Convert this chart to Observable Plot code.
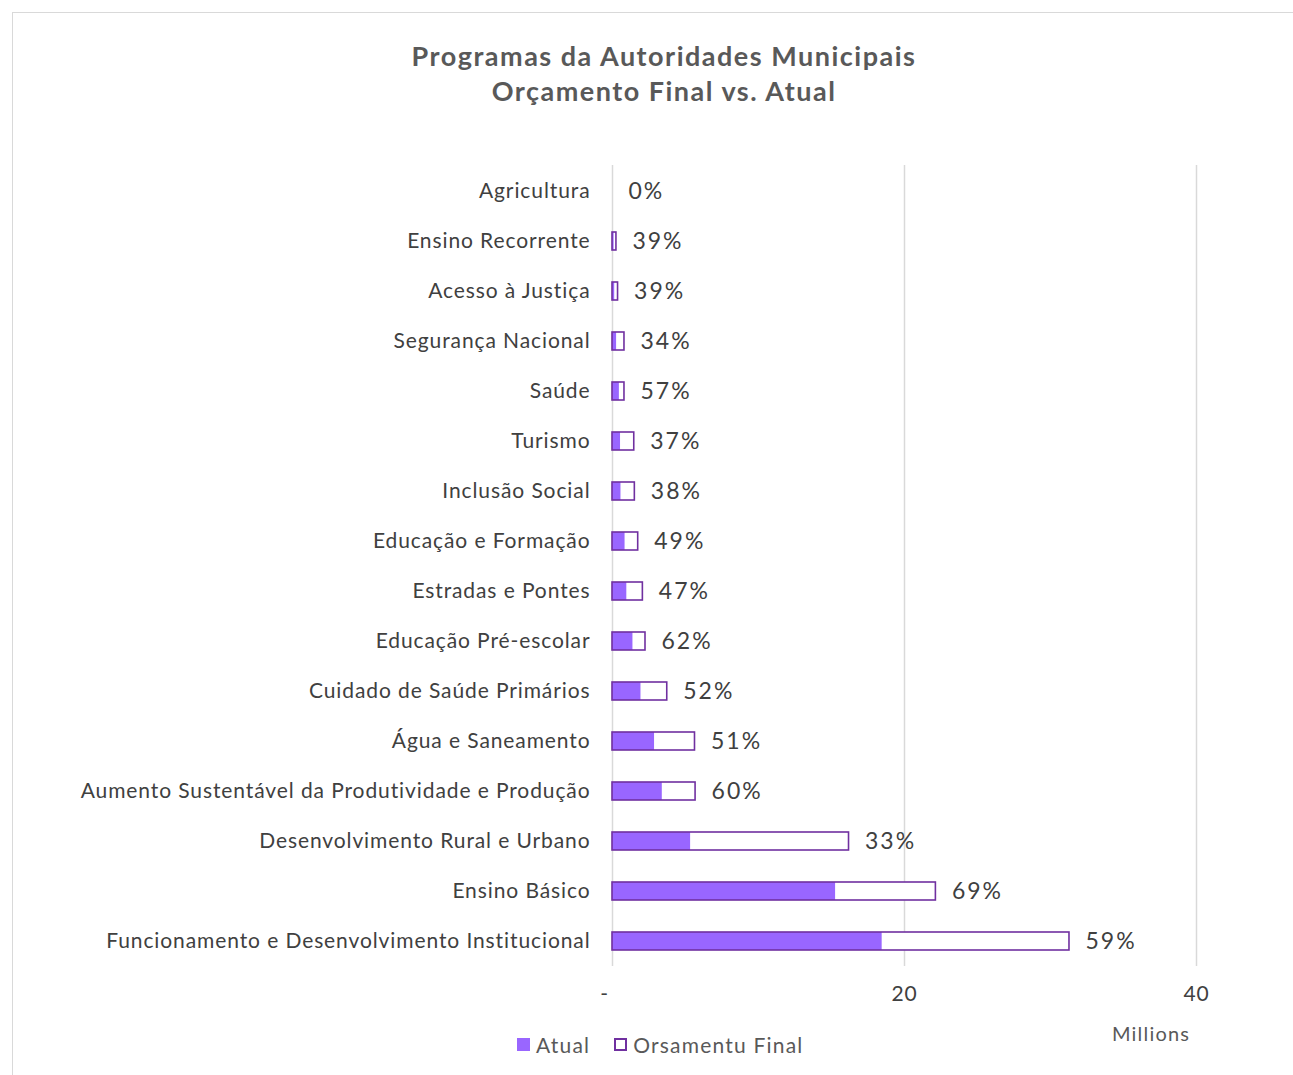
<!DOCTYPE html>
<html>
<head>
<meta charset="utf-8">
<script src="https://cdn.jsdelivr.net/npm/d3@7"></script>
<script src="https://cdn.jsdelivr.net/npm/@observablehq/plot@0.6"></script>
<style>
  html, body { margin: 0; padding: 0; background: #fff; }
  body { width: 1293px; height: 1075px; position: relative; overflow: hidden; font-family: "Lato", "Open Sans", sans-serif; }
  #frame { position: absolute; left: 12px; top: 12px; width: 1300px; height: 1100px; border: 1px solid #d9d9d9; box-sizing: border-box; }
  #title { position: absolute; left: 0; top: 38px; width: 1328px; text-align: center; font-size: 27px; line-height: 35px; font-weight: 700; color: #595959; letter-spacing: 1.5px; }
  #chart { position: absolute; left: 0; top: 140px; }
  #millions { position: absolute; left: 1112px; top: 1021px; font-size: 20px; color: #595959; letter-spacing: 1.2px; }
  #legend { position: absolute; left: 517px; top: 1032px; font-size: 21px; color: #595959; display: flex; align-items: center; letter-spacing: 1.2px; }
  .sw { width: 13px; height: 13px; display: inline-block; margin-right: 6px; box-sizing: border-box; }
  .item { display: flex; align-items: center; margin-right: 24px; }
</style>
</head>
<body>
<div id="frame"></div>
<div id="title">Programas da Autoridades Municipais<br>Orçamento Final vs. Atual</div>
<div id="chart"></div>
<div id="millions">Millions</div>
<div id="legend">
  <span class="item"><span class="sw" style="background:#9966ff"></span>Atual</span>
  <span class="item"><span class="sw" style="background:#fff;border:2px solid #7030a0"></span>Orsamentu Final</span>
</div>
<script>
const categories = [
  "Agricultura",
  "Ensino Recorrente",
  "Acesso à Justiça",
  "Segurança Nacional",
  "Saúde",
  "Turismo",
  "Inclusão Social",
  "Educação e Formação",
  "Estradas e Pontes",
  "Educação Pré-escolar",
  "Cuidado de Saúde Primários",
  "Água e Saneamento",
  "Aumento Sustentável da Produtividade e Produção",
  "Desenvolvimento Rural e Urbano",
  "Ensino Básico",
  "Funcionamento e Desenvolvimento Institucional"
];
// values in millions
const finalBudget = [0, 0.27, 0.38, 0.82, 0.82, 1.49, 1.53, 1.76, 2.08, 2.26, 3.75, 5.65, 5.69, 16.2, 22.15, 31.3];
const actual      = [0, 0.11, 0.15, 0.28, 0.47, 0.55, 0.58, 0.86, 0.98, 1.40, 1.95, 2.88, 3.41, 5.35, 15.28, 18.47];
const pctLabels   = ["0%", "39%", "39%", "34%", "57%", "37%", "38%", "49%", "47%", "62%", "52%", "51%", "60%", "33%", "69%", "59%"];
const xTicks = [0, 20, 40];

const data = categories.map((c, i) => ({cat: c, final: finalBudget[i], actual: actual[i], pct: pctLabels[i]}));

const chart = Plot.plot({
  width: 1293,
  height: 870,
  marginTop: 25,
  marginBottom: 44,
  marginLeft: 612,
  marginRight: 97,
  style: { fontFamily: "Lato, 'Open Sans', sans-serif", color: "#404040", background: "transparent" },
  x: { domain: [0, 40], ticks: xTicks, tickFormat: d => d === 0 ? "-" : d, tickSize: 0, tickPadding: 20, label: null },
  y: { domain: categories, padding: 0, tickSize: 0, tickPadding: 22, label: null },
  marks: [
    Plot.ruleX(xTicks, { stroke: "#d9d9d9", strokeWidth: 1.5 }),
    Plot.barX(data, { x: "final", y: "cat", fill: "white", insetTop: 16, insetBottom: 16 }),
    Plot.barX(data, { x: "actual", y: "cat", fill: "#9966ff", insetTop: 16, insetBottom: 16 }),
    Plot.barX(data.filter(d => d.final > 0), { x: "final", y: "cat", fill: "none", stroke: "#7030a0", strokeWidth: 1.6, insetTop: 16, insetBottom: 16 }),
    Plot.text(data, { x: "final", y: "cat", text: "pct", dx: 16, textAnchor: "start", fontSize: 23, fill: "#404040" })
  ]
});
chart.querySelectorAll('[aria-label="y-axis tick label"], [aria-label="x-axis tick label"]').forEach(g => {
  g.setAttribute("font-size", "21"); g.setAttribute("fill", "#404040"); g.style.letterSpacing = "0.9px";
});
chart.querySelectorAll('[aria-label="x-axis tick label"] text').forEach(t => {
  if (t.textContent === "-") t.setAttribute("dx", "-8");
});
chart.querySelectorAll('[aria-label="text"]').forEach(g => { g.style.letterSpacing = "2px"; });
document.getElementById("chart").appendChild(chart);
</script>
</body>
</html>
